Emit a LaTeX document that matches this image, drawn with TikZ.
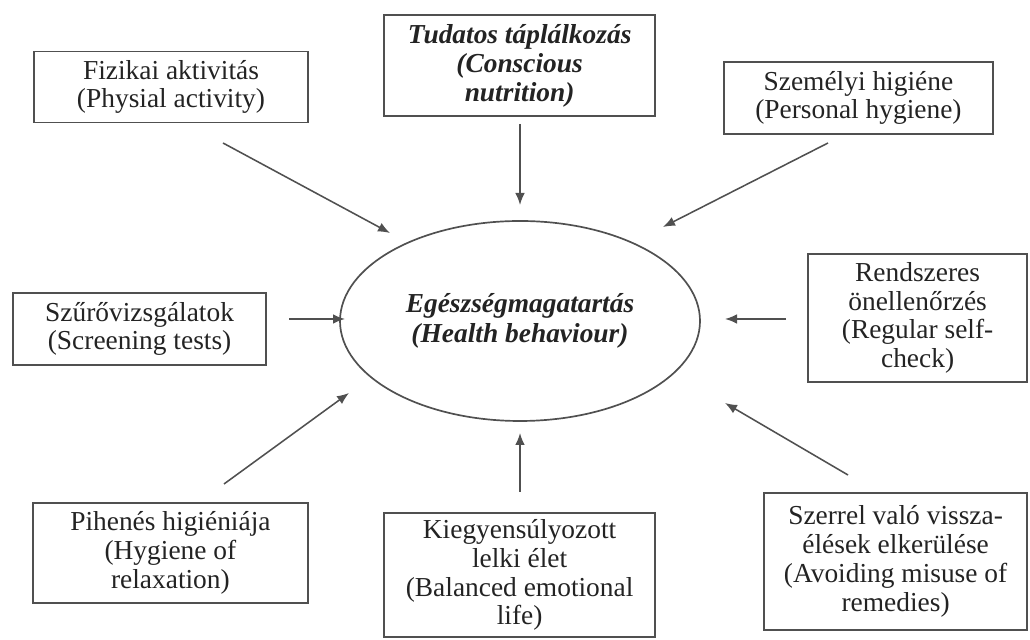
\documentclass[tikz,border=0pt]{standalone}
\usepackage{fontspec}
\setmainfont{Liberation Serif}
\usetikzlibrary{arrows.meta,shapes.geometric}
\definecolor{cLine}{RGB}{80,80,80}
\definecolor{cText}{RGB}{35,35,35}

\begin{document}
\begin{tikzpicture}[
   fbox/.style={draw=cLine,line width=1.3pt,align=center,inner sep=2pt,text=cText,font=\fontsize{19.5}{20.5}\selectfont},
   arr/.style={draw=cLine,line width=1.1pt,-{Latex[length=3mm,width=2.4mm]}}]
 \useasboundingbox (0,0) rectangle (25.75,16);
 % centre: the behaviour itself
 \node[ellipse,draw=cLine,line width=1.2pt,minimum width=9cm,minimum height=5cm,inner sep=0pt,
   align=center,text=cText,font=\fontsize{19.5}{21}\selectfont\bfseries\itshape] (hb) at (13.0,7.975)
   {Egészségmagatartás\\(Health behaviour)};
 % factor boxes, clockwise from top left
 \node[fbox,minimum width=6.85cm,minimum height=1.775cm] (fiz) at (4.275,13.825) {Fizikai aktivitás\\(Physial activity)};
 \node[fbox,minimum width=6.775cm,minimum height=2.525cm,font=\fontsize{19.5}{20.5}\selectfont\bfseries\itshape] (tud) at (12.99,14.36) {Tudatos táplálkozás\\(Conscious\\nutrition)};
 \node[fbox,minimum width=6.725cm,minimum height=1.8cm] (szem) at (21.46,13.55) {Személyi higiéne\\(Personal hygiene)};
 \node[fbox,minimum width=5.475cm,minimum height=3.2cm] (ren) at (22.94,8.05) {Rendszeres\\önellenőrzés\\(Regular self-\\check)};
 \node[fbox,minimum width=6.575cm,minimum height=3.425cm] (szer) at (22.39,1.96) {Szerrel való vissza-\\élések elkerülése\\(Avoiding misuse of\\remedies)};
 \node[fbox,minimum width=6.775cm,minimum height=3.1cm] (kie) at (12.99,1.625) {Kiegyensúlyozott\\lelki élet\\(Balanced emotional\\life)};
 \node[fbox,minimum width=6.875cm,minimum height=2.5cm] (pih) at (4.26,2.175) {Pihenés higiéniája\\(Hygiene of\\relaxation)};
 \node[fbox,minimum width=6.325cm,minimum height=1.8cm] (szu) at (3.49,7.775) {Szűrővizsgálatok\\(Screening tests)};
 % arrow ends: the arrows stop short of boxes and ellipse
 \coordinate (fizS) at (5.575,12.425);  \coordinate (fizE) at (9.75,10.175);
 \coordinate (tudS) at (13.0,12.9);     \coordinate (tudE) at (13.0,10.875);
 \coordinate (szemS) at (20.7,12.425);  \coordinate (szemE) at (16.575,10.325);
 \coordinate (renS) at (19.65,8.025);   \coordinate (renE) at (18.125,8.025);
 \coordinate (szerS) at (21.2,4.125);   \coordinate (szerE) at (18.125,5.925);
 \coordinate (kieS) at (13.0,3.7);      \coordinate (kieE) at (13.0,5.175);
 \coordinate (pihS) at (5.6,3.9);       \coordinate (pihE) at (8.725,6.175);
 \coordinate (szuS) at (7.225,8.025);   \coordinate (szuE) at (8.625,8.025);
 \foreach \n in {fiz,tud,szem,ren,szer,kie,pih,szu}
   \draw[arr] (\n S) -- (\n E);
\end{tikzpicture}
\end{document}
